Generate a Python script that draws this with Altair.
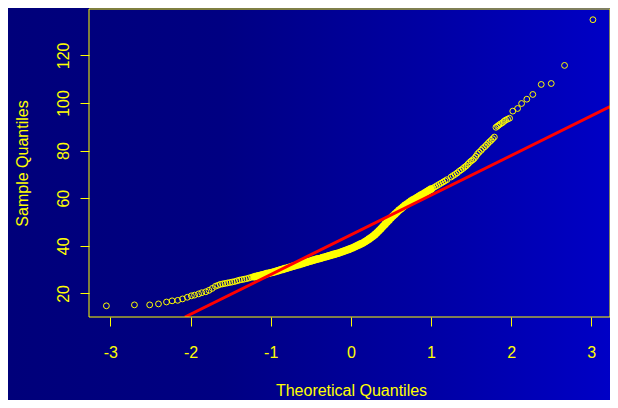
import altair as alt
import pandas as pd

# ---- data ----
# lower tail (theoretical quantile, sample quantile)
low_x = [-3.05, -2.70, -2.51, -2.40, -2.30, -2.23, -2.16, -2.10, -2.04, -1.99,
         -1.95, -1.90, -1.86, -1.81, -1.77, -1.73, -1.69, -1.66, -1.63, -1.60,
         -1.57, -1.54, -1.51, -1.48, -1.45, -1.42, -1.39, -1.36, -1.33, -1.30,
         -1.27, -1.24, -1.22]
low_y = [14.8, 15.2, 15.2, 15.6, 16.4, 16.9, 17.1, 17.7, 18.4, 19.0,
         19.3, 19.8, 20.3, 20.7, 21.3, 22.1, 23.0, 23.4, 23.8, 24.0,
         24.2, 24.4, 24.6, 24.8, 25.0, 25.3, 25.6, 25.8, 26.0, 26.2,
         26.5, 26.8, 26.9]

# dense middle band
mid_x = [-1.200, -1.175, -1.150, -1.125, -1.100, -1.075, -1.050, -1.025, -1.000,
         -0.975, -0.950, -0.925, -0.900, -0.875, -0.850, -0.825, -0.800, -0.775,
         -0.750, -0.725, -0.700, -0.675, -0.650, -0.625, -0.600, -0.575, -0.550,
         -0.525, -0.500, -0.475, -0.450, -0.425, -0.400, -0.375, -0.350, -0.325,
         -0.300, -0.275, -0.250, -0.225, -0.200, -0.175, -0.150, -0.125, -0.100,
         -0.075, -0.050, -0.025, 0.000, 0.025, 0.050, 0.075, 0.100, 0.125,
         0.150, 0.175, 0.200, 0.225, 0.250, 0.275, 0.300, 0.325, 0.350,
         0.375, 0.400, 0.425, 0.450, 0.475, 0.500, 0.525, 0.550, 0.575,
         0.600, 0.625, 0.650, 0.675, 0.700, 0.725, 0.750, 0.775, 0.800,
         0.825, 0.850, 0.875, 0.900, 0.925, 0.950, 0.975, 1.000, 1.025,
         1.050, 1.075, 1.100, 1.125, 1.150, 1.175, 1.200]
mid_y = [27.0, 27.2, 27.4, 27.6, 27.8, 28.0, 28.3, 28.5, 28.7,
         28.9, 29.1, 29.4, 29.6, 29.9, 30.1, 30.4, 30.6, 30.9,
         31.1, 31.4, 31.6, 31.9, 32.1, 32.4, 32.6, 32.9, 33.1,
         33.4, 33.6, 33.9, 34.1, 34.4, 34.6, 34.8, 35.1, 35.3,
         35.5, 35.8, 36.0, 36.3, 36.5, 36.8, 37.0, 37.3, 37.6,
         37.9, 38.2, 38.5, 38.9, 39.2, 39.6, 40.0, 40.4, 40.8,
         41.2, 41.7, 42.2, 42.8, 43.4, 44.0, 44.7, 45.5, 46.3,
         47.2, 48.1, 49.0, 49.9, 50.8, 51.7, 52.5, 53.3, 54.1,
         54.9, 55.6, 56.3, 57.0, 57.6, 58.2, 58.8, 59.3, 59.8,
         60.3, 60.8, 61.3, 61.8, 62.3, 62.8, 63.3, 63.8, 64.3,
         64.8, 65.3, 65.8, 66.3, 66.8, 67.3, 67.8]

# upper tail
high_x = [1.25, 1.275, 1.30, 1.325, 1.35, 1.375, 1.40, 1.42, 1.44, 1.46,
          1.48, 1.50, 1.52, 1.54, 1.56, 1.58, 1.60, 1.625, 1.645, 1.67,
          1.69, 1.71, 1.73, 1.75, 1.77, 1.79, 1.81, 1.83, 1.845, 1.865,
          1.89, 1.91, 1.93, 1.955, 1.98, 2.02, 2.08, 2.13, 2.195, 2.27,
          2.375, 2.50, 2.666, 3.02]
high_y = [68.9, 69.5, 70.0, 70.6, 71.3, 71.9, 72.5, 73.1, 73.6, 74.3,
          75.0, 75.6, 76.1, 76.7, 77.6, 78.6, 79.3, 80.1, 80.9, 81.6,
          82.3, 83.0, 83.7, 84.3, 85.0, 85.7, 89.8, 90.3, 90.7, 91.2,
          91.7, 92.3, 92.8, 93.2, 93.6, 96.6, 97.7, 99.8, 101.6, 103.6,
          107.8, 108.2, 115.8, 135.0]

# reference line (qqline) end points as read
line_x = [-2.07, 3.233]
line_y = [10.1, 98.5]

x_ticks = [-3, -2, -1, 0, 1, 2, 3]
y_ticks = [20, 40, 60, 80, 100, 120]
x_domain = [-3.267, 3.233]
y_domain = [10.1, 139.5]

YELLOW = "#FFFF00"
FONT = "Liberation Sans"
W, H = 521, 308
PAD = {"left": 81, "top": 1, "right": 0, "bottom": 83}

pts = pd.DataFrame({"x": low_x + mid_x + high_x, "y": low_y + mid_y + high_y})
dense = pd.DataFrame({"x": mid_x, "y": mid_y})
ln = pd.DataFrame({"x": line_x, "y": line_y})
one = pd.DataFrame({"k": [0]})

xscale = alt.Scale(domain=x_domain, nice=False, zero=False)
yscale = alt.Scale(domain=y_domain, nice=False, zero=False)

xaxis = alt.Axis(values=x_ticks, domain=False, grid=False, tickColor=YELLOW,
                 tickSize=9, tickWidth=1, labelColor=YELLOW, labelFont=FONT,
                 labelFontSize=16, labelBaseline="alphabetic", labelPadding=31,
                 labelFlush=False, labelExpr="toString(datum.value)",
                 title="Theoretical Quantiles", titleColor=YELLOW, titleFont=FONT,
                 titleFontSize=16, titleFontWeight="normal",
                 titleBaseline="alphabetic", titleAlign="center",
                 titleX=(351 - 89), titleY=78, zindex=1)
yaxis = alt.Axis(values=y_ticks, domain=False, grid=False, tickColor=YELLOW,
                 tickSize=9, tickWidth=1, labelColor=YELLOW, labelFont=FONT,
                 labelFontSize=16, labelAngle=270, labelAlign="center",
                 labelBaseline="alphabetic", labelPadding=12, labelFlush=False,
                 labelExpr="toString(datum.value)",
                 title="Sample Quantiles", titleColor=YELLOW, titleFont=FONT,
                 titleFontSize=16, titleFontWeight="normal", titleAngle=270,
                 titleAlign="center", titleBaseline="alphabetic",
                 titleX=-62, titleY=H / 2, zindex=1)

bg = alt.Chart(one).mark_rect(
    clip=False,
    color=alt.LinearGradient(
        gradient="linear", x1=0, x2=1, y1=0, y2=0,
        stops=[alt.GradientStop(color="#00007A", offset=0),
               alt.GradientStop(color="#000082", offset=0.35),
               alt.GradientStop(color="#0000A4", offset=0.7),
               alt.GradientStop(color="#0000C6", offset=1)])
).encode(x=alt.value(-81), x2=alt.value(W + 2), y=alt.value(-1), y2=alt.value(H + 84))

points = alt.Chart(pts).mark_point(
    shape="circle", filled=False, color=YELLOW, size=34, strokeWidth=1, opacity=1
).encode(
    x=alt.X("x:Q", scale=xscale, axis=xaxis),
    y=alt.Y("y:Q", scale=yscale, axis=yaxis),
)

# the heavily overlapping middle of the sample reads as a solid band
band = alt.Chart(dense).transform_filter(
    (alt.datum.x >= -1.2) & (alt.datum.x <= 1.0)
).mark_point(
    shape="circle", filled=True, color=YELLOW, size=58, opacity=1
).encode(
    x=alt.X("x:Q", scale=xscale),
    y=alt.Y("y:Q", scale=yscale),
)

line = alt.Chart(ln).mark_line(color="#FF0000", strokeWidth=3, clip=True).encode(
    x=alt.X("x:Q", scale=xscale),
    y=alt.Y("y:Q", scale=yscale),
)

frame = alt.Chart(one).mark_rect(
    fill="#000000", fillOpacity=0, stroke=YELLOW, strokeWidth=1, clip=False
).encode(x=alt.value(0), x2=alt.value(W), y=alt.value(0), y2=alt.value(H))

chart = alt.layer(bg, points, band, line, frame).properties(
    width=W, height=H, padding=PAD,
    autosize=alt.AutoSizeParams(type="none"),
    background="#000080",
).configure_view(strokeOpacity=0)

chart.save("out.html", embed_options={"renderer": "svg", "actions": False})
